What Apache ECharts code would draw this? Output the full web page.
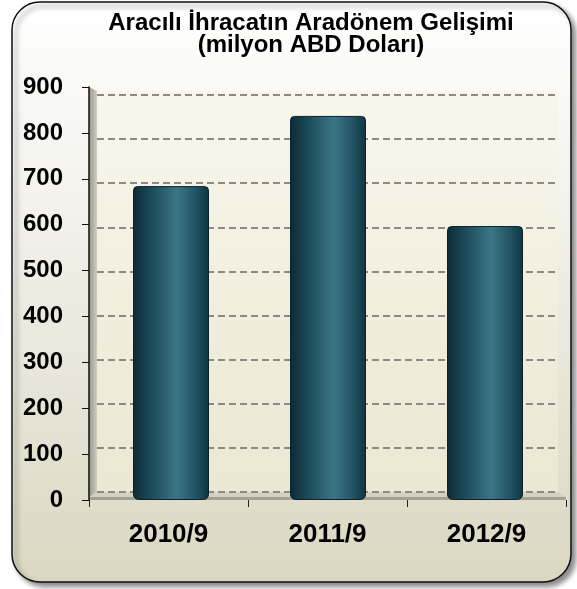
<!DOCTYPE html>
<html>
<head>
<meta charset="utf-8">
<script src="https://cdn.jsdelivr.net/npm/echarts@6/dist/echarts.min.js"></script>
<style>
html,body{margin:0;padding:0;background:#ffffff;}
#c{width:577px;height:589px;}
</style>
</head>
<body>
<div id="c"></div>
<script>
const titleLines = ['Aracılı İhracatın Aradönem Gelişimi', '(milyon ABD Doları)'];
const categories = ['2010/9', '2011/9', '2012/9'];
const values = [684, 837, 597];
const yMin = 0, yMax = 900, yStep = 100;

const FONT = "'Liberation Sans', Arial, sans-serif";
const chart = echarts.init(document.getElementById('c'), null, {renderer: 'canvas'});

const barGradient = new echarts.graphic.LinearGradient(0, 0, 1, 0, [
  {offset: 0, color: '#0c2a35'},
  {offset: 0.25, color: '#1d4c5a'},
  {offset: 0.58, color: '#3c7686'},
  {offset: 0.85, color: '#1f5060'},
  {offset: 1, color: '#0f3340'}
]);

chart.setOption({
  animation: false,
  backgroundColor: '#ffffff',
  title: {
    text: titleLines.join('\n'),
    left: 306, top: 7, textAlign: 'center',
    textStyle: {fontFamily: FONT, fontWeight: 'bold', fontSize: 24, lineHeight: 22, color: '#000'}
  },
  graphic: [
    {type: 'rect', z: -10, shape: {x: 12, y: 2, width: 559, height: 580, r: 28},
      style: {
        fill: new echarts.graphic.LinearGradient(0, 0, 0, 1, [
          {offset: 0, color: '#ffffff'}, {offset: 0.35, color: '#f3f2ec'}, {offset: 1, color: '#dbd7c2'}]),
        stroke: '#111', lineWidth: 1.5,
        shadowBlur: 5, shadowOffsetX: 4, shadowOffsetY: 4, shadowColor: 'rgba(0,0,0,0.45)'
      }},
    {type: 'rect', z: -9, shape: {x: 97, y: 91, width: 461, height: 402},
      style: {fill: new echarts.graphic.LinearGradient(0, 0, 0, 1, [
        {offset: 0, color: '#f9f7ec'}, {offset: 1, color: '#ebe7d2'}])}},
    {type: 'polygon', z: -9, shape: {points: [[89, 87], [97, 91], [97, 493], [89, 500]]},
      style: {fill: new echarts.graphic.LinearGradient(0, 0, 1, 0, [
        {offset: 0, color: '#9a988a'}, {offset: 1, color: '#cfcdbf'}])}},
    {type: 'polygon', z: -9, shape: {points: [[97, 492], [558, 492], [566, 497], [89, 497]]},
      style: {fill: '#d3d1c1'}},
    {type: 'polygon', z: -9, shape: {points: [[89, 497], [566, 497], [566, 500], [89, 500]]},
      style: {fill: '#a3a193'}}
  ],
  grid: [
    {left: 89, right: 11, top: 87, bottom: 89},
    {left: 97, right: 20, top: 95, bottom: 97},
    {left: 92.5, right: 13.5, top: 87, bottom: 89}
  ],
  xAxis: [
    {gridIndex: 0, type: 'category', data: categories, boundaryGap: true,
      axisLine: {show: false},
      axisTick: {show: true, length: 7, lineStyle: {color: '#222', width: 1}},
      axisLabel: {margin: 22, fontFamily: FONT, fontWeight: 'bold', fontSize: 26, color: '#000'}},
    {gridIndex: 1, type: 'category', data: categories, show: false},
    {gridIndex: 2, type: 'category', data: categories, show: false}
  ],
  yAxis: [
    {gridIndex: 0, type: 'value', min: yMin, max: yMax, interval: yStep,
      axisLine: {show: true, lineStyle: {color: '#111', width: 1.5}},
      axisTick: {show: true, length: 7, lineStyle: {color: '#111', width: 1}},
      splitLine: {show: false},
      axisLabel: {margin: 26, fontFamily: FONT, fontWeight: 'bold', fontSize: 24, color: '#000'}},
    {gridIndex: 1, type: 'value', min: yMin, max: yMax, interval: yStep,
      axisLine: {show: false}, axisTick: {show: false}, axisLabel: {show: false},
      splitLine: {show: true, lineStyle: {color: '#8a8a86', width: 2.2, type: [7, 4]}}},
    {gridIndex: 2, type: 'value', min: yMin, max: yMax, show: false, splitLine: {show: false}}
  ],
  series: [
    {type: 'bar', xAxisIndex: 2, yAxisIndex: 2, data: values, barWidth: 76,
      itemStyle: {color: barGradient, borderColor: '#0a222b', borderWidth: 1, borderRadius: [4, 4, 5, 5]}}
  ]
});
</script>
</body>
</html>
